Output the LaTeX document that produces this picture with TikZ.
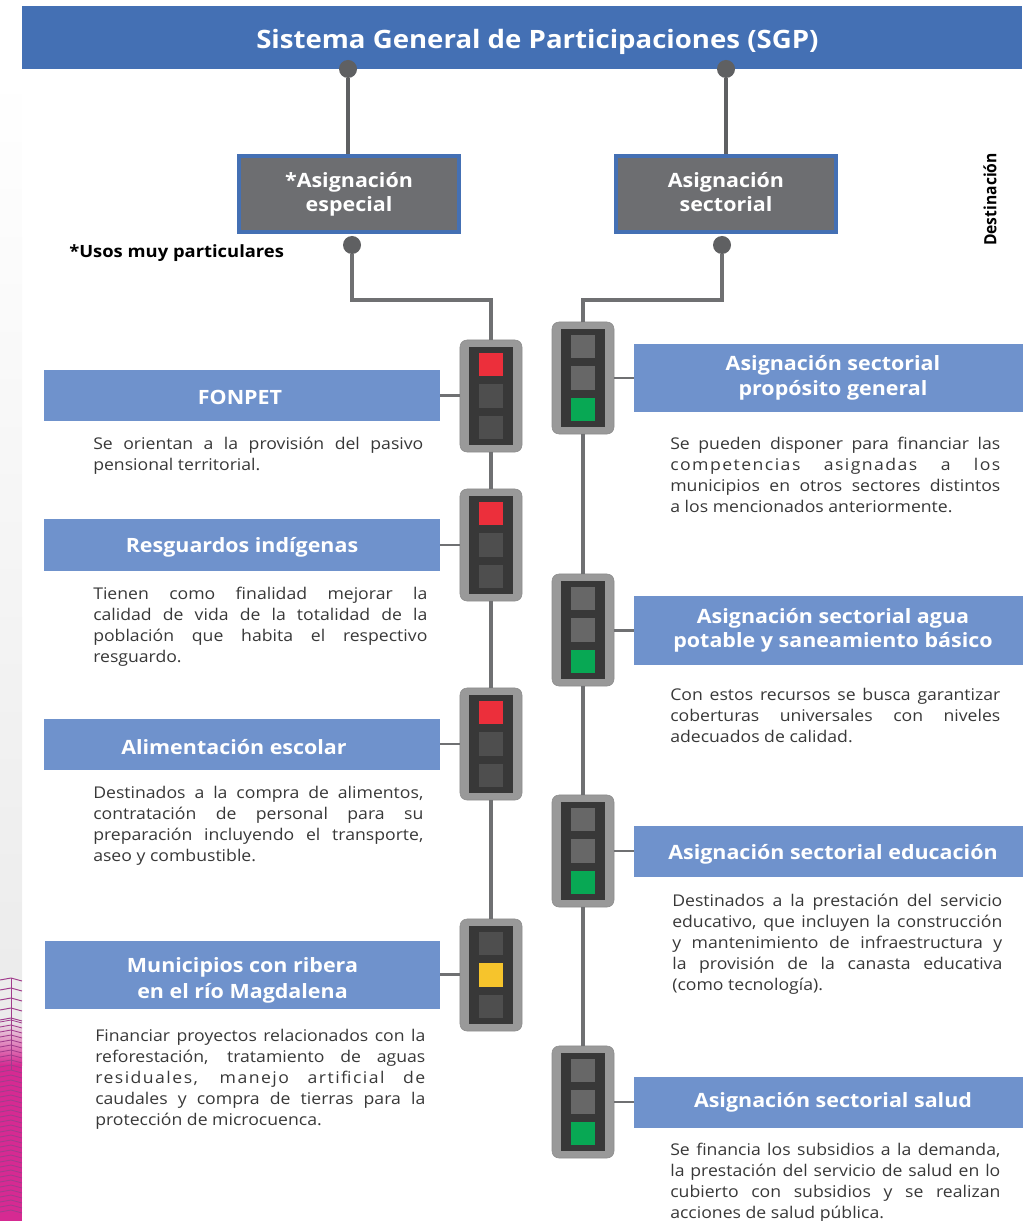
\documentclass[tikz,border=0pt]{standalone}
\usepackage{fontspec}
\setmainfont{Open Sans}[FakeStretch=1.09]
\newcommand{\spaced}[1]{{\addfontfeature{LetterSpace=9}#1}}
\usetikzlibrary{positioning}
\definecolor{sgpblue}{HTML}{4470B4}
\definecolor{boxblue}{HTML}{6F92CC}
\definecolor{stemgray}{HTML}{5F6062}
\definecolor{asiggray}{HTML}{6D6E71}
\definecolor{lampoff}{HTML}{4E4E4E}
\definecolor{lampdim}{HTML}{676767}
\definecolor{lampred}{HTML}{EC2F3B}
\definecolor{lampyellow}{HTML}{F6C42C}
\definecolor{lampgreen}{HTML}{08A854}
\definecolor{stripgray}{HTML}{EBEBEB}
\definecolor{stripmag}{HTML}{D62A92}
\definecolor{striplin}{HTML}{A03C8C}

\begin{document}
\begin{tikzpicture}[
    x=0.025cm, y=-0.025cm,
    titlebox/.style={rectangle, fill=sgpblue, text=white, font=\fontsize{18}{22}\selectfont\bfseries, minimum width=25cm, minimum height=1.575cm, text height=15.5pt, text depth=0pt},
    asigbox/.style={rectangle, draw=sgpblue, line width=2.4pt, fill=asiggray, text=white, font=\fontsize{14}{17}\selectfont\bfseries, minimum width=5.5cm, minimum height=1.9cm, align=center},
    leftbox/.style={rectangle, fill=boxblue, text=white, font=\fontsize{14}{17.5}\selectfont\bfseries, minimum width=9.9cm, minimum height=1.275cm, align=center},
    rightbox/.style={leftbox, minimum width=9.95cm},
    tallbox/.style={minimum height=1.7cm},
    drop/.style={text height=#1, text depth=0pt},
    bodytext/.style={anchor=north west, inner sep=0pt, text=black!78, font=\fontsize{11.5}{14.9}\selectfont, align=justify},
    stemdot/.style={circle, fill=stemgray, inner sep=0pt, minimum width=0.45cm, minimum height=0.4cm},
    stem/.style={draw=stemgray, line width=2.6pt},
    trunk/.style={draw=stemgray!90, line width=2.2pt},
    stub/.style={draw=stemgray!90, line width=1.6pt},
    housing/.style={rectangle, rounded corners=5pt, fill=black!40, draw=black!45, minimum width=1.55cm, minimum height=2.8cm},
    lampcase/.style={rectangle, fill=black!78, minimum width=1.08cm, minimum height=2.45cm},
    lamp/.style={rectangle, minimum width=0.62cm, minimum height=0.58cm}
]
\useasboundingbox (0,0) rectangle (1022,1221);

% franja izquierda
\fill[top color=white, bottom color=stripgray] (0,70) rectangle (22,1020);
\fill[top color=stripgray, bottom color=stripmag] (0,1020) rectangle (22,1065);
\fill[stripmag] (0,1065) rectangle (22,1221);
\foreach \i in {0,...,4}
    \draw[striplin, line width=0.7pt] (0,{980+\i*10}) -- (11,{978+\i*10}) -- (22,{981+\i*10});
\foreach \i in {0,...,38}
    \draw[striplin, line width=0.6pt] (0,{1022+\i*5}) -- (11,{1020+\i*5}) -- (22,{1023+\i*5});
\draw[striplin, line width=0.7pt] (11,978) -- (11,1070);

% titulo
\node[titlebox] (sgp) at (522,37.5) {\hspace*{0.77cm}Sistema General de Participaciones (SGP)};
\node[stemdot] (dotA) at (348,69) {};
\node[stemdot] (dotB) at (726,69) {};

% asignaciones
\node[asigbox] (especial) at (349,194) {*Asignación\\especial};
\node[asigbox] (sectorial) at (726,194) {Asignación\\sectorial\vphantom{p}};
\draw[stem] (dotA) -- (especial.north -| dotA);
\draw[stem] (dotB) -- (sectorial.north -| dotB);
\node[anchor=west, inner sep=0pt, text=black, font=\fontsize{12}{14}\selectfont\bfseries] (usos) at (69,253) {*Usos muy particulares};
\node[rotate=90, inner sep=0pt, text=black, font=\fontsize{12}{14}\selectfont\bfseries, xscale=0.85] (destino) at (990,199.5) {Destinación};

% semaforos
\foreach \nm/\x/\y/\lampa/\lampb/\lampc in {
    tlA/491/396/lampred/lampoff/lampoff,
    tlB/491/545/lampred/lampoff/lampoff,
    tlC/491/744/lampred/lampoff/lampoff,
    tlD/491/975/lampoff/lampyellow/lampoff,
    tlE/583/378/lampdim/lampdim/lampgreen,
    tlF/583/630/lampdim/lampdim/lampgreen,
    tlG/583/851/lampdim/lampdim/lampgreen,
    tlH/583/1102/lampdim/lampdim/lampgreen}{
    \node[housing] (\nm) at (\x,\y) {};
    \node[lampcase] (\nm c) at (\nm.center) {};
    \node[lamp, fill=\lampa] (\nm a) at ([yshift=0.78cm]\nm.center) {};
    \node[lamp, fill=\lampb] (\nm b) at (\nm.center) {};
    \node[lamp, fill=\lampc] (\nm d) at ([yshift=-0.78cm]\nm.center) {};
}

\node[stemdot] (dotL) at (352,245) {};
\node[stemdot] (dotR) at (722,245) {};
\coordinate (elbowL) at (352,300);
\coordinate (elbowR) at (722,300);
\draw[trunk] (dotL) -- (elbowL) -| (tlA.north);
\draw[trunk] (dotR) -- (elbowR) -| (tlE.north);
\draw[trunk] (tlA) -- (tlB);
\draw[trunk] (tlB) -- (tlC);
\draw[trunk] (tlC) -- (tlD);
\draw[trunk] (tlE) -- (tlF);
\draw[trunk] (tlF) -- (tlG);
\draw[trunk] (tlG) -- (tlH);

% columna izquierda
\node[leftbox, drop=13pt] (fonpet) at (242,395.5) {\hspace*{-0.1cm}FONPET};
\node[leftbox, drop=10pt] (resguardos) at (242,545) {Resguardos indígenas};
\node[leftbox, drop=15pt] (alimentacion) at (242,744) {\hspace*{-0.4cm}Alimentación escolar};
\node[leftbox, tallbox, minimum width=9.875cm] (municipios) at (242.5,974.5) {\rule{0pt}{19pt}Municipios con ribera\\[0.5pt]en el río Magdalena};
\draw[stub] (fonpet.east) -- (fonpet.east -| tlA.west);
\draw[stub] (resguardos.east) -- (resguardos.east -| tlB.west);
\draw[stub] (alimentacion.east) -- (alimentacion.east -| tlC.west);
\draw[stub] (municipios.east) -- (municipios.east -| tlD.west);

\node[bodytext, text width=8.25cm] (txtfonpet) at (93,437) {Se orientan a la provisión del pasivo\linebreak pensional territorial.};
\node[bodytext, text width=8.35cm] (txtresguardos) at (93,587) {Tienen como finalidad mejorar la\linebreak calidad de vida de la totalidad de la\linebreak población que habita el respectivo\linebreak resguardo.};
\node[bodytext, text width=8.25cm] (txtalimentacion) at (93,786) {Destinados a la compra de alimentos,\linebreak contratación de personal para su\linebreak preparación incluyendo el transporte,\linebreak aseo y combustible.};
\node[bodytext, text width=8.25cm] (txtmunicipios) at (95,1029) {Financiar proyectos relacionados con la\linebreak reforestación, tratamiento de aguas\linebreak \spaced{residuales, manejo artificial de}\linebreak caudales y compra de tierras para la\linebreak protección de microcuenca.};

% columna derecha
\node[rightbox, tallbox] (general) at (833,378) {Asignación sectorial\\propósito general};
\node[rightbox, tallbox] (agua) at (833,630.5) {Asignación sectorial agua\\potable y saneamiento básico};
\node[rightbox, drop=11.5pt] (educacion) at (833,851) {Asignación sectorial educación};
\node[rightbox, drop=8pt] (salud) at (833,1102) {Asignación sectorial salud};
\draw[stub] (general.west) -- (general.west -| tlE.east);
\draw[stub] (agua.west) -- (agua.west -| tlF.east);
\draw[stub] (educacion.west) -- (educacion.west -| tlG.east);
\draw[stub] (salud.west) -- (salud.west -| tlH.east);

\node[bodytext, text width=8.25cm] (txtgeneral) at (670,437) {Se pueden disponer para financiar las\linebreak \spaced{competencias asignadas a los}\linebreak municipios en otros sectores distintos\linebreak a los mencionados anteriormente.};
\node[bodytext, text width=8.25cm] (txtagua) at (670,688) {Con estos recursos se busca garantizar\linebreak coberturas universales con niveles\linebreak adecuados de calidad.};
\node[bodytext, text width=8.25cm] (txteducacion) at (672,894) {Destinados a la prestación del servicio\linebreak educativo, que incluyen la construcción\linebreak y mantenimiento de infraestructura y\linebreak la provisión de la canasta educativa\linebreak (como tecnología).};
\node[bodytext, text width=8.25cm] (txtsalud) at (670,1143) {Se financia los subsidios a la demanda,\linebreak la prestación del servicio de salud en lo\linebreak cubierto con subsidios y se realizan\linebreak acciones de salud pública.};
\end{tikzpicture}
\end{document}
